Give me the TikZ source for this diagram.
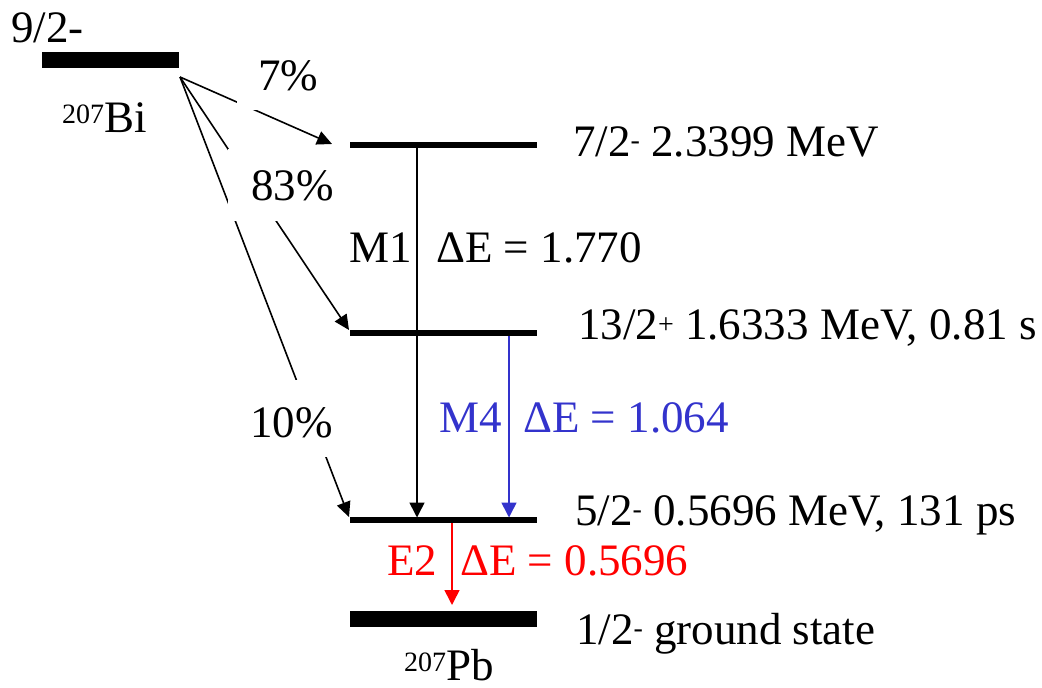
\documentclass[tikz,border=0pt]{standalone}
\usepackage{fontspec}
\setmainfont{Liberation Serif}
\usetikzlibrary{arrows.meta}
\definecolor{m4blue}{RGB}{51,51,204}
\definecolor{e2red}{RGB}{255,0,0}
\newcommand\upidx[2][12pt]{\raisebox{#1}{\fontsize{28}{30}\selectfont #2}}
\begin{document}
\begin{tikzpicture}[x=1pt,y=-1pt,
  txt/.style={inner sep=0pt,anchor=base west,font=\fontsize{45}{54}\selectfont},
  pct/.style={fill=white,inner xsep=21pt,inner ysep=20pt,text height=30pt,text depth=0pt,anchor=base,font=\fontsize{45}{54}\selectfont},
  thinlev/.style={line width=6pt},
  thicklev/.style={line width=16pt},
  decay/.style={line width=1.6pt,-{Triangle[length=15pt,width=14pt]}},
  gam/.style={line width=1.6pt,-{Triangle[length=15pt,width=15pt]}}]
\useasboundingbox (0,0) rectangle (1042,688);
% levels
\coordinate (biL) at (42,60);   \coordinate (biR) at (179,60);
\coordinate (aL) at (350,145);  \coordinate (aR) at (537,145);
\coordinate (bL) at (350,333);  \coordinate (bR) at (537,333);
\coordinate (cL) at (350,520);  \coordinate (cR) at (537,520);
\coordinate (gL) at (350,619);  \coordinate (gR) at (537,619);
\draw[thicklev] (biL) -- (biR);
\draw[thinlev] (aL) -- (aR);
\draw[thinlev] (bL) -- (bR);
\draw[thinlev] (cL) -- (cR);
\draw[thicklev] (gL) -- (gR);
% beta branches
\coordinate (src) at (180,77);
\coordinate (t7) at (332,144);
\coordinate (t83) at (349,330);
\coordinate (t10) at (349,517);
\draw[decay] (src) -- (t10);
\draw[decay] (src) -- (t83);
\draw[decay] (src) -- (t7);
\node[pct] (p7) at (288,90) {7\%};
\node[pct,inner xsep=23pt,inner ysep=21pt] (p83) at (292.5,200) {83\%};
\node[pct,text height=37pt] (p10) at (291.5,437) {10\%};
% gamma transitions
\coordinate (m1s) at (417,148);  \coordinate (m1e) at (417,517.5);
\coordinate (m4s) at (509,336);  \coordinate (m4e) at (509,517.5);
\coordinate (e2s) at (452,523);  \coordinate (e2e) at (452,605);
\draw[gam] (m1s) -- (m1e);
\draw[gam,m4blue] (m4s) -- (m4e);
\draw[gam,e2red] (e2s) -- (e2e);
% texts
\node[txt] (spinBi) at (11,42) {9/2-};
\node[txt] (biname) at (62,132) {\upidx[9pt]{207}Bi};
\node[txt] (la) at (573,156) {7/2\upidx[7pt]{-} 2.3399 MeV};
\node[txt] (lb) at (578,339) {13/2\upidx[6pt]{+} 1.6333 MeV, 0.81 s};
\node[txt] (lc) at (575,525) {5/2\upidx[7pt]{-} 0.5696 MeV, 131 ps};
\node[txt] (lg) at (576,644) {1/2\upidx[7pt]{-} ground state};
\node[txt] (pbname) at (404,680) {\upidx[9pt]{207}Pb};
\node[txt] (m1) at (349,262) {M1};
\node[txt] (m1en) at (436,262) {ΔE = 1.770};
\node[txt,text=m4blue] (m4) at (439,432) {M4};
\node[txt,text=m4blue] (m4en) at (523,432) {ΔE = 1.064};
\node[txt,text=e2red] (e2) at (387,575) {E2};
\node[txt,text=e2red] (e2en) at (460,575) {ΔE = 0.5696};
\end{tikzpicture}
\end{document}
